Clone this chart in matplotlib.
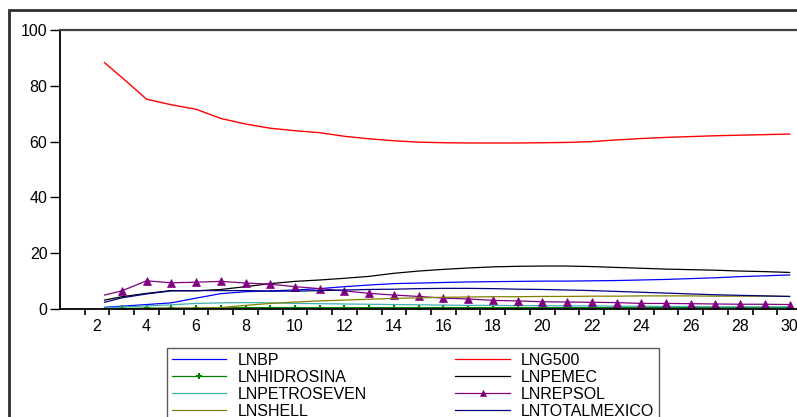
import matplotlib
matplotlib.use("Agg")
import matplotlib.pyplot as plt
from matplotlib.patches import Rectangle

# ---- data ----
periods = [2.3, 3, 4, 5, 6, 7, 8, 9, 10, 11, 12, 13, 14, 15, 16, 17, 18, 19, 20,
           21, 22, 23, 24, 25, 26, 27, 28, 29, 30]

lnbp = [0.6, 1.0, 1.6, 2.2, 3.9, 5.5, 6.2, 6.5, 6.8, 7.3, 8.0, 8.6, 9.1, 9.3, 9.5,
        9.7, 9.8, 9.9, 10.0, 10.0, 10.1, 10.2, 10.4, 10.6, 10.9, 11.2, 11.6, 11.9, 12.2]
lng500 = [88.3, 83.0, 75.2, 73.2, 71.6, 68.3, 66.3, 64.8, 63.9, 63.2, 61.9, 61.0, 60.3,
          59.8, 59.6, 59.5, 59.5, 59.5, 59.6, 59.7, 60.0, 60.6, 61.1, 61.5, 61.8, 62.1,
          62.3, 62.5, 62.7]
lnhidrosina = [0.1, 0.2, 0.3, 0.3, 0.3, 0.4, 0.5, 0.5, 0.5, 0.5, 0.5, 0.5, 0.5, 0.5,
               0.5, 0.5, 0.5, 0.5, 0.5, 0.5, 0.5, 0.5, 0.5, 0.5, 0.5, 0.5, 0.5, 0.5, 0.5]
lnpemec = [3.2, 4.4, 5.6, 6.6, 6.5, 7.0, 8.0, 9.1, 9.9, 10.4, 11.0, 11.7, 12.8, 13.6,
           14.2, 14.7, 15.1, 15.3, 15.4, 15.4, 15.2, 14.9, 14.6, 14.3, 14.1, 13.9, 13.6,
           13.4, 13.1]
lnpetroseven = [0.4, 0.7, 1.1, 1.5, 2.0, 2.2, 2.3, 2.2, 2.0, 1.9, 1.8, 1.7, 1.6, 1.5,
                1.4, 1.3, 1.3, 1.2, 1.2, 1.1, 1.1, 1.0, 1.0, 0.9, 0.9, 0.8, 0.8, 0.8, 0.8]
lnrepsol = [5.0, 6.5, 10.1, 9.4, 9.6, 9.9, 9.3, 8.9, 8.0, 7.3, 6.5, 5.6, 5.0, 4.5, 3.9,
            3.6, 3.1, 2.9, 2.6, 2.5, 2.4, 2.3, 2.0, 2.0, 1.9, 1.8, 1.7, 1.7, 1.6]
lnshell = [0.1, 0.1, 0.2, 0.3, 0.3, 0.5, 1.3, 2.0, 2.5, 2.9, 3.2, 3.5, 3.8, 4.0, 4.2,
           4.3, 4.4, 4.4, 4.5, 4.5, 4.6, 4.6, 4.7, 4.7, 4.7, 4.6, 4.6, 4.6, 4.5]
lntotalmexico = [2.4, 4.0, 5.4, 6.5, 6.6, 6.6, 6.6, 6.4, 6.4, 6.6, 6.8, 7.0, 7.1, 7.3,
                 7.4, 7.4, 7.3, 7.1, 7.0, 6.8, 6.6, 6.3, 6.0, 5.7, 5.4, 5.1, 4.9, 4.7, 4.5]

x_labels = [2, 4, 6, 8, 10, 12, 14, 16, 18, 20, 22, 24, 26, 28, 30]
y_ticks = [0, 20, 40, 60, 80, 100]

series = {
    "LNBP": (lnbp, "#0000FF", None),
    "LNG500": (lng500, "#FF0000", None),
    "LNHIDROSINA": (lnhidrosina, "#008000", "+"),
    "LNPEMEC": (lnpemec, "#000000", None),
    "LNPETROSEVEN": (lnpetroseven, "#3FB0B0", None),
    "LNREPSOL": (lnrepsol, "#800080", "^"),
    "LNSHELL": (lnshell, "#808000", None),
    "LNTOTALMEXICO": (lntotalmexico, "#000080", None),
}
# legend is filled column by column
legend_order = ["LNBP", "LNHIDROSINA", "LNPETROSEVEN", "LNSHELL",
                "LNG500", "LNPEMEC", "LNREPSOL", "LNTOTALMEXICO"]

plt.rcParams["font.family"] = ["Liberation Sans", "DejaVu Sans"]

W, H = 797, 417
fig = plt.figure(figsize=(W / 100, H / 100), dpi=100)
fig.patch.set_facecolor("white")

# outer frame
fig.patches.append(Rectangle((8.5 / W, 1 - 430 / H), 820 / W, 420.5 / H,
                             transform=fig.transFigure, fill=False,
                             edgecolor="#303030", linewidth=2.0, clip_on=False))

ax = fig.add_axes([60 / W, 1 - 309 / H, (802 - 60) / W, (309 - 30) / H])

handles = {}
for name, (vals, color, marker) in series.items():
    lw = 1.0 if name == "LNG500" else 0.9
    if marker == "^":
        h, = ax.plot(periods, vals, color=color, lw=lw, marker="^", markersize=6,
                     markevery=slice(1, None), markeredgewidth=0.5, label=name)
    elif marker == "+":
        h, = ax.plot(periods, vals, color=color, lw=lw, marker="+", markersize=5,
                     markevery=slice(1, None), markeredgewidth=1.5, label=name)
    else:
        h, = ax.plot(periods, vals, color=color, lw=lw, label=name)
    handles[name] = h

ax.set_xlim(0.5, 30.5)
ax.set_ylim(0, 100)
ax.set_xticks(x_labels)
ax.set_xticklabels([str(v) for v in x_labels])
ax.set_xticks([v + 0.5 for v in range(1, 30)], minor=True)
ax.tick_params(axis="x", which="major", length=0, pad=7, labelsize=11.5)
ax.tick_params(axis="x", which="minor", length=4.5, width=1.2, direction="out")
ax.set_yticks(y_ticks)
ax.set_yticklabels([str(v) for v in y_ticks])
ax.tick_params(axis="y", length=7, width=1.0, direction="out", pad=2, labelsize=11.5)
for lbl in ax.get_yticklabels():
    lbl.set_verticalalignment("center_baseline")

for s in ["left", "bottom"]:
    ax.spines[s].set_linewidth(1.3)
    ax.spines[s].set_color("black")
ax.spines["top"].set_linewidth(1.6)
ax.spines["top"].set_color("#404040")

leg_left, leg_right, leg_top = 167, 659, 348
leg = fig.legend(handles=[handles[n] for n in legend_order], ncol=2, loc="upper left",
                 bbox_to_anchor=(leg_left / W, 1 - leg_top / H - 0.001,
                                 (leg_right - leg_left) / W, 0.001),
                 mode="expand", borderaxespad=0,
                 frameon=True, fancybox=False, edgecolor="#303030",
                 fontsize=11.5, handlelength=3.4, handletextpad=0.7,
                 columnspacing=1.0, labelspacing=0.12, borderpad=0.3,
                 markerscale=0.8)
leg.get_frame().set_linewidth(1.0)
for line in leg.get_lines():
    line.set_linewidth(0.9)

fig.savefig("out.png", dpi=100)
